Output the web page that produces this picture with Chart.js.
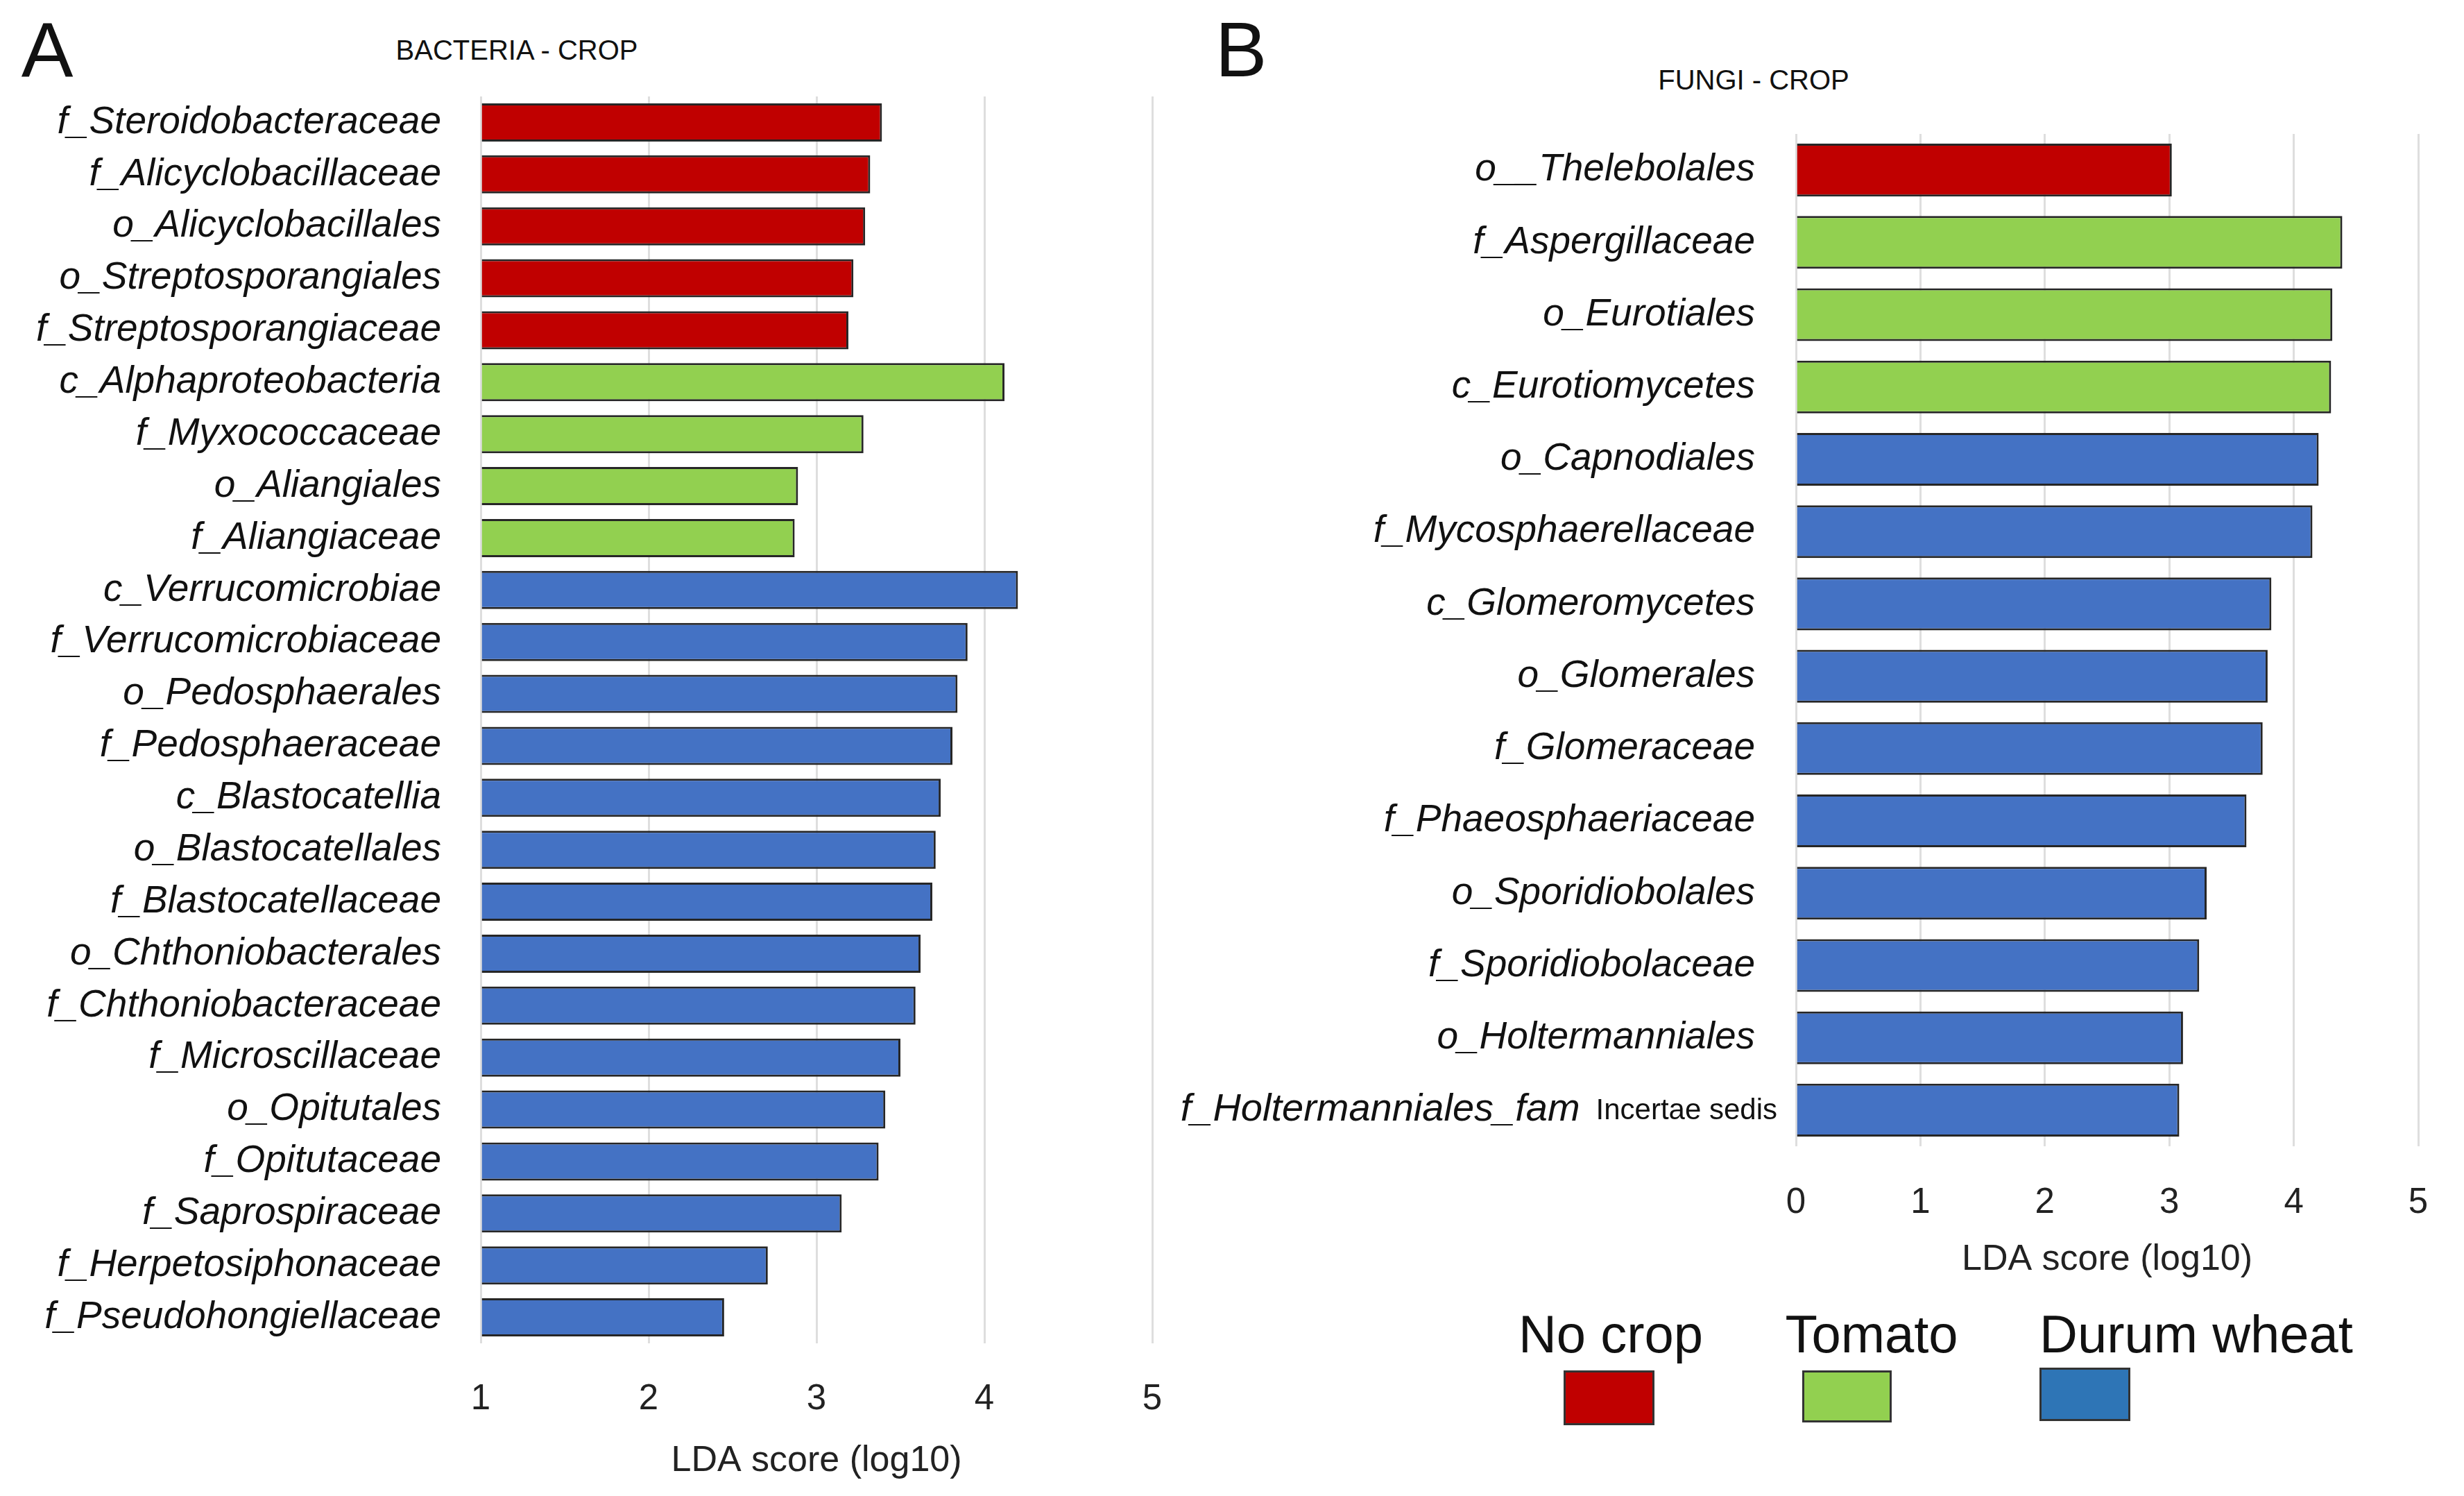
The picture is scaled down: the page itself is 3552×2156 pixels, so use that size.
<!DOCTYPE html>
<html>
<head>
<meta charset="utf-8">
<script src="https://cdn.jsdelivr.net/npm/chart.js@4.4.1/dist/chart.umd.min.js"></script>
<style>
  html, body { margin: 0; padding: 0; background: #fff; }
  #page { position: relative; width: 3552px; height: 2156px; overflow: hidden;
          font-family: "Liberation Sans", Arial, sans-serif; color: #111; }
  canvas { position: absolute; }
  .txt { position: absolute; white-space: nowrap; line-height: 1; transform: translate(-50%, -50%); }
  .box { position: absolute; box-sizing: border-box; border: 3px solid #333; }
</style>
</head>
<body>
<div id="page">
  <div class="txt" style="left:68px;top:72px;font-size:112px;">A</div>
  <div class="txt" style="left:1789px;top:72px;font-size:112px;">B</div>
  <div class="txt" style="left:745px;top:72px;font-size:40px;">BACTERIA - CROP</div>
  <div class="txt" style="left:2528px;top:115px;font-size:40px;">FUNGI - CROP</div>

  <canvas id="chartA" width="1760" height="2156" style="left:0;top:0;"></canvas>
  <canvas id="chartB" width="1852" height="1860" style="left:1700px;top:0;"></canvas>

  <div id="legend"></div>
</div>
<script>
  // ---- data -----------------------------------------------------------
  var bacteriaLabels = [
    "f_Steroidobacteraceae", "f_Alicyclobacillaceae", "o_Alicyclobacillales",
    "o_Streptosporangiales", "f_Streptosporangiaceae", "c_Alphaproteobacteria",
    "f_Myxococcaceae", "o_Aliangiales", "f_Aliangiaceae", "c_Verrucomicrobiae",
    "f_Verrucomicrobiaceae", "o_Pedosphaerales", "f_Pedosphaeraceae",
    "c_Blastocatellia", "o_Blastocatellales", "f_Blastocatellaceae",
    "o_Chthoniobacterales", "f_Chthoniobacteraceae", "f_Microscillaceae",
    "o_Opitutales", "f_Opitutaceae", "f_Saprospiraceae",
    "f_Herpetosiphonaceae", "f_Pseudohongiellaceae"
  ];
  var bacteriaScores = [
    3.39, 3.32, 3.29, 3.22, 3.19, 4.12, 3.28, 2.89, 2.87, 4.20,
    3.90, 3.84, 3.81, 3.74, 3.71, 3.69, 3.62, 3.59, 3.50, 3.41,
    3.37, 3.15, 2.71, 2.45
  ];
  var bacteriaGroups = [
    "nocrop", "nocrop", "nocrop", "nocrop", "nocrop",
    "tomato", "tomato", "tomato", "tomato",
    "wheat", "wheat", "wheat", "wheat", "wheat", "wheat", "wheat", "wheat",
    "wheat", "wheat", "wheat", "wheat", "wheat", "wheat", "wheat"
  ];
  var bacteriaTicks = [1, 2, 3, 4, 5];

  var fungiLabels = [
    "o__Thelebolales", "f_Aspergillaceae", "o_Eurotiales", "c_Eurotiomycetes",
    "o_Capnodiales", "f_Mycosphaerellaceae", "c_Glomeromycetes", "o_Glomerales",
    "f_Glomeraceae", "f_Phaeosphaeriaceae", "o_Sporidiobolales",
    "f_Sporidiobolaceae", "o_Holtermanniales", "f_Holtermanniales_fam"
  ];
  var fungiSuffix = "Incertae sedis";   // small upright tail of the last label
  var fungiScores = [
    3.02, 4.39, 4.31, 4.30, 4.20, 4.15, 3.82, 3.79, 3.75, 3.62, 3.30, 3.24, 3.11, 3.08
  ];
  var fungiGroups = [
    "nocrop", "tomato", "tomato", "tomato",
    "wheat", "wheat", "wheat", "wheat", "wheat", "wheat", "wheat", "wheat", "wheat", "wheat"
  ];
  var fungiTicks = [0, 1, 2, 3, 4, 5];

  var legendNames = ["No crop", "Tomato", "Durum wheat"];
  var legendKeys = ["nocrop", "tomato", "wheat"];

  // ---- styling --------------------------------------------------------
  var BAR = { nocrop: "#C00000", tomato: "#92D050", wheat: "#4472C4" };
  var SWATCH = { nocrop: "#C00000", tomato: "#92D050", wheat: "#2E75B6" };
  var FONT = '"Liberation Sans", Arial, sans-serif';
  Chart.defaults.font.family = FONT;
  Chart.defaults.color = "#222";

  function colorsFor(groups) { return groups.map(function (g) { return BAR[g]; }); }

  function baseOptions(cfg) {
    var yTicks = { font: { size: cfg.labelSize, style: "italic" }, color: "#111",
                   padding: cfg.labelPad, autoSkip: false };
    if (cfg.labelCb) yTicks.callback = cfg.labelCb;
    return {
      indexAxis: "y", responsive: false, animation: false, devicePixelRatio: 1,
      layout: { padding: { top: cfg.top, right: cfg.right, left: 0, bottom: 0 } },
      plugins: { legend: { display: false }, tooltip: { enabled: false } },
      scales: {
        x: {
          min: cfg.ticks[0], max: cfg.ticks[cfg.ticks.length - 1],
          afterBuildTicks: function (s) { s.ticks = cfg.ticks.map(function (v) { return { value: v }; }); },
          ticks: { font: { size: 51 }, color: "#222", padding: cfg.tickPad },
          grid: { color: "#dedede", lineWidth: 3, drawTicks: false },
          border: { display: false },
          title: { display: true, text: "LDA score (log10)", font: { size: 52 }, color: "#222",
                   padding: { top: 0, bottom: cfg.titlePad } },
          afterFit: function (s) { s.height = cfg.xHeight; }
        },
        y: {
          ticks: yTicks,
          grid: { display: false, drawTicks: false },
          border: { display: false },
          afterFit: function (s) { s.width = cfg.yWidth; }
        }
      }
    };
  }

  // ---- panel A: bacteria ---------------------------------------------
  new Chart(document.getElementById("chartA").getContext("2d"), {
    type: "bar",
    data: {
      labels: bacteriaLabels,
      datasets: [{
        data: bacteriaScores, base: 1,
        backgroundColor: colorsFor(bacteriaGroups),
        borderColor: "#262626", borderWidth: 3,
        barPercentage: 0.734, categoryPercentage: 1
      }]
    },
    options: baseOptions({ top: 139, right: 99, ticks: bacteriaTicks, tickPad: 50, titlePad: 19,
                           xHeight: 220, yWidth: 693, labelPad: 57, labelSize: 55 })
  });

  // ---- panel B: fungi ---------------------------------------------------
  var lastIdx = fungiLabels.length - 1;
  var incertae = {
    id: "incertae",
    afterDraw: function (chart) {
      var ys = chart.scales.y, ctx = chart.ctx;
      var y = ys.getPixelForValue(lastIdx);
      var rx = ys.right - 27;
      ctx.save();
      ctx.textBaseline = "middle";
      ctx.textAlign = "right";
      ctx.fillStyle = "#111";
      ctx.font = "42px " + FONT;
      ctx.fillText(fungiSuffix, rx, y + 2);
      var w = ctx.measureText(fungiSuffix).width;
      ctx.font = "italic 56px " + FONT;
      ctx.fillText(fungiLabels[lastIdx], rx - w - 23, y);
      ctx.restore();
    }
  };
  new Chart(document.getElementById("chartB").getContext("2d"), {
    type: "bar",
    data: {
      labels: fungiLabels,
      datasets: [{
        data: fungiScores,
        backgroundColor: colorsFor(fungiGroups),
        borderColor: "#262626", borderWidth: 3,
        barPercentage: 0.73, categoryPercentage: 1
      }]
    },
    options: baseOptions({ top: 193, right: 66, ticks: fungiTicks, tickPad: 51, titlePad: 13,
                           xHeight: 208, yWidth: 889, labelPad: 59, labelSize: 55,
                           labelCb: function (v, i) { return i === lastIdx ? "" : this.getLabelForValue(v); } }),
    plugins: [incertae]
  });

  // ---- legend (text above swatch) --------------------------------------
  var legendText = [[2322, 1923], [2698, 1923], [3166, 1923]];
  var legendBox = [[2254, 1975, 131, 79], [2598, 1975, 129, 75], [2940, 1971, 131, 77]];
  var lg = document.getElementById("legend");
  legendNames.forEach(function (name, i) {
    var t = document.createElement("div");
    t.className = "txt";
    t.style.cssText = "left:" + legendText[i][0] + "px;top:" + legendText[i][1] + "px;font-size:76px;";
    t.textContent = name;
    lg.appendChild(t);
    var b = document.createElement("div");
    var r = legendBox[i];
    b.className = "box";
    b.style.cssText = "left:" + r[0] + "px;top:" + r[1] + "px;width:" + r[2] + "px;height:" + r[3] +
      "px;background:" + SWATCH[legendKeys[i]] + ";";
    lg.appendChild(b);
  });
</script>
</body>
</html>
